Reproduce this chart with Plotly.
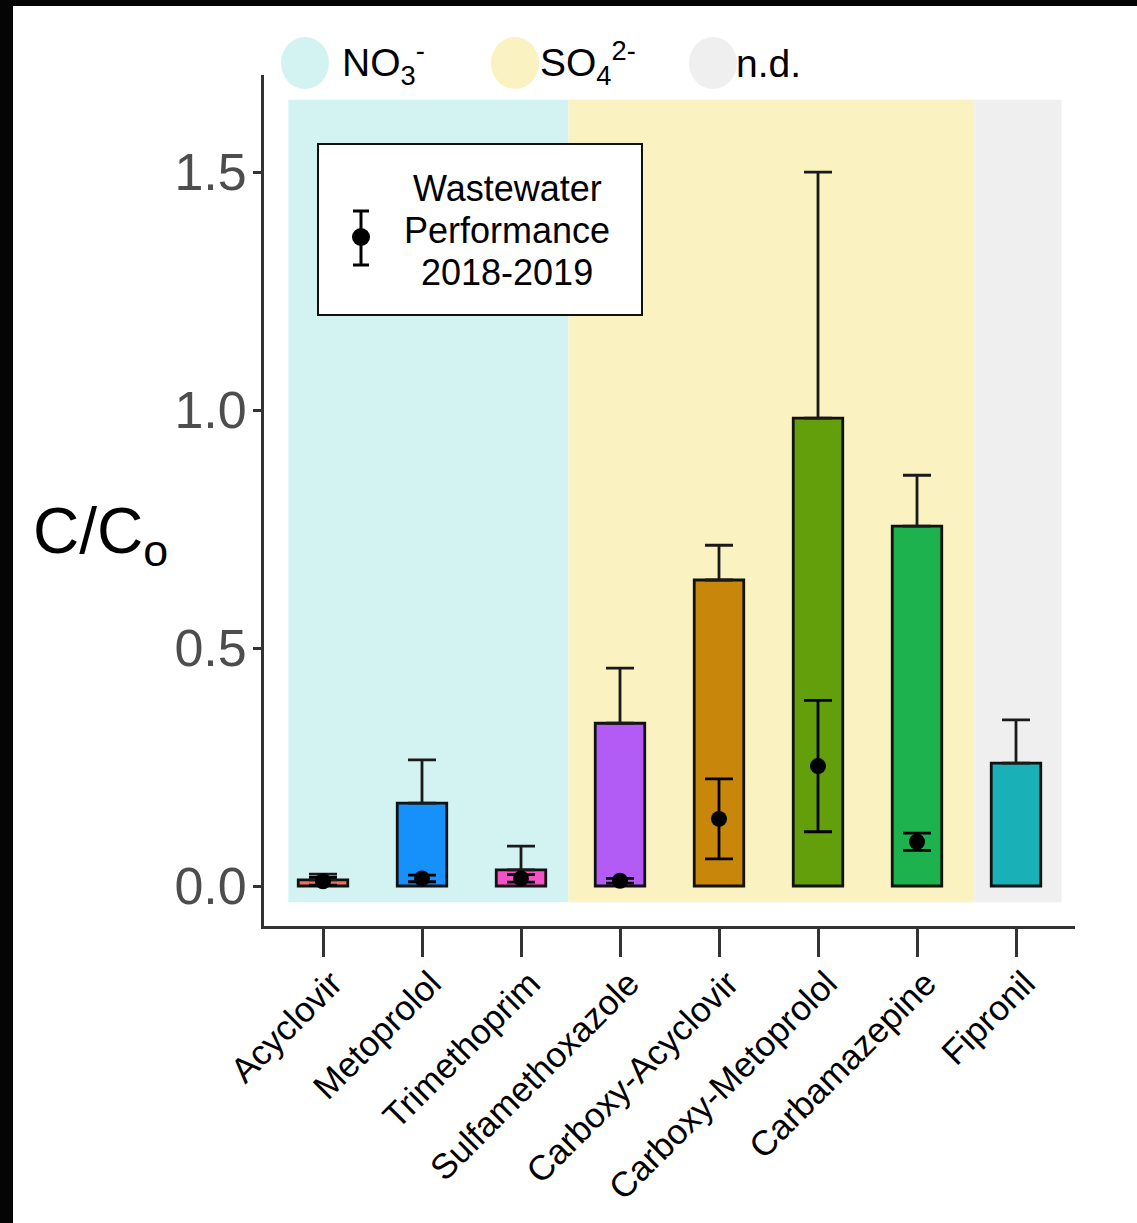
import plotly.graph_objects as go

# Compounds and measured C/Co (column mean and upper standard deviation)
compounds = ["Acyclovir", "Metoprolol", "Trimethoprim", "Sulfamethoxazole",
             "Carboxy-Acyclovir", "Carboxy-Metoprolol", "Carbamazepine", "Fipronil"]
column_mean = [0.013, 0.174, 0.034, 0.342, 0.643, 0.983, 0.756, 0.258]
column_sd = [0.012, 0.091, 0.050, 0.116, 0.073, 0.517, 0.107, 0.091]
bar_colors = ["#F0705F", "#1690FA", "#F552C8", "#B35BF5",
              "#C8860B", "#629F0A", "#1DB24E", "#19B1B7"]

# Wastewater treatment performance 2018-2019 (mean +/- sd); no data for Fipronil
ww_compounds = ["Acyclovir", "Metoprolol", "Trimethoprim", "Sulfamethoxazole",
                "Carboxy-Acyclovir", "Carboxy-Metoprolol", "Carbamazepine"]
ww_mean = [0.010, 0.016, 0.016, 0.011, 0.141, 0.252, 0.093]
ww_sd = [0.008, 0.007, 0.008, 0.005, 0.084, 0.138, 0.018]

# Redox zones shading the compound groups (x spans in category units)
zone_names = ["NO3", "SO4", "nd"]
zone_x0 = [-0.35, 2.48, 6.58]
zone_x1 = [2.48, 6.58, 7.46]
zone_colors = ["#D3F3F3", "#FAF2C1", "#EFEFEF"]
zone_y0, zone_y1 = -0.034, 1.652

FONT = "Liberation Sans, Arial, sans-serif"
W, H = 1137, 1223
L, R, T, B = 264, 62, 75, 297
PW, PH = W - L - R, H - T - B


def px(xp):
    return (xp - L) / PW


def py(yp):
    return (H - B - yp) / PH


fig = go.Figure()

fig.add_trace(go.Bar(
    x=compounds, y=column_mean, width=0.5,
    marker=dict(color=bar_colors, line=dict(color="#111111", width=2.8)),
    error_y=dict(type="data", symmetric=False, array=column_sd,
                 arrayminus=[0] * len(column_sd),
                 color="#1a1a1a", thickness=2.8, width=14),
    showlegend=False, hoverinfo="x+y",
))

fig.add_trace(go.Scatter(
    x=ww_compounds, y=ww_mean, mode="markers",
    marker=dict(color="#000000", size=16),
    error_y=dict(type="data", array=ww_sd, color="#000000",
                 thickness=2.8, width=14),
    showlegend=False,
))

shapes = []
for x0, x1, c in zip(zone_x0, zone_x1, zone_colors):
    shapes.append(dict(type="rect", xref="x", yref="y", x0=x0, x1=x1,
                       y0=zone_y0, y1=zone_y1, fillcolor=c,
                       line=dict(width=0), layer="below"))

# dark frame edge along the top and left
shapes.append(dict(type="rect", xref="paper", yref="paper",
                   x0=px(0), x1=px(1137), y0=py(6), y1=py(0),
                   fillcolor="#050505", line=dict(width=0)))
shapes.append(dict(type="rect", xref="paper", yref="paper",
                   x0=px(0), x1=px(13), y0=py(1223), y1=py(0),
                   fillcolor="#050505", line=dict(width=0)))

# zone key: coloured dots above the panel
key_centers = [305, 515, 713]
for cx, c in zip(key_centers, zone_colors):
    shapes.append(dict(type="circle", xref="paper", yref="paper",
                       x0=px(cx - 24), x1=px(cx + 24), y0=py(89), y1=py(37),
                       fillcolor=c, line=dict(width=0)))

# inset key for the wastewater points
shapes.append(dict(type="rect", xref="paper", yref="paper",
                   x0=px(318), x1=px(642), y0=py(315), y1=py(144),
                   fillcolor="white", line=dict(color="#111111", width=2)))
shapes.append(dict(type="line", xref="paper", yref="paper",
                   x0=px(361), x1=px(361), y0=py(265), y1=py(211),
                   line=dict(color="black", width=3)))
for yy in (211, 265):
    shapes.append(dict(type="line", xref="paper", yref="paper",
                       x0=px(353), x1=px(369), y0=py(yy), y1=py(yy),
                       line=dict(color="black", width=3)))
shapes.append(dict(type="circle", xref="paper", yref="paper",
                   x0=px(352), x1=px(370), y0=py(246), y1=py(228),
                   fillcolor="black", line=dict(width=0)))

annotations = [
    dict(text="NO<sub>3</sub><sup>-</sup>", x=px(340), y=py(63),
         xanchor="left", yanchor="middle", font=dict(size=39)),
    dict(text="SO<sub>4</sub><sup>2-</sup>", x=px(538), y=py(63),
         xanchor="left", yanchor="middle", font=dict(size=39)),
    dict(text="n.d.", x=px(734), y=py(63),
         xanchor="left", yanchor="middle", font=dict(size=39)),
    dict(text="Wastewater", x=px(507), y=py(188),
         xanchor="center", yanchor="middle", font=dict(size=36)),
    dict(text="Performance", x=px(507), y=py(230),
         xanchor="center", yanchor="middle", font=dict(size=36)),
    dict(text="2018-2019", x=px(507), y=py(272),
         xanchor="center", yanchor="middle", font=dict(size=36)),
    dict(text="C/C<sub>o</sub>", x=px(100), y=py(535),
         xanchor="center", yanchor="middle", font=dict(size=64)),
]
for a in annotations:
    a.update(xref="paper", yref="paper", showarrow=False)
    a["font"].update(family=FONT, color="#000000")

fig.update_layout(
    width=W, height=H,
    margin=dict(l=L, r=R, t=T, b=B, pad=0, autoexpand=False),
    paper_bgcolor="white", plot_bgcolor="white",
    font=dict(family=FONT),
    bargap=0.5,
    shapes=shapes, annotations=annotations,
    xaxis=dict(
        range=[-0.596, 7.596], showgrid=False, zeroline=False,
        automargin=False,
        showline=True, linecolor="#333333", linewidth=2.8,
        ticks="outside", ticklen=28, tickwidth=2.8, tickcolor="#333333",
        tickangle=-45, tickfont=dict(size=35, color="#000000", family=FONT),
        ticklabelstandoff=-8, ticklabelshift=9,
        categoryorder="array", categoryarray=compounds,
    ),
    yaxis=dict(
        range=[-0.084, 1.704], showgrid=False, zeroline=False,
        automargin=False,
        showline=True, linecolor="#333333", linewidth=2.8,
        ticks="outside", ticklen=8, tickwidth=2.8, tickcolor="#333333",
        ticklabelstandoff=-4,
        tickvals=[0, 0.5, 1.0, 1.5], ticktext=["0.0", "0.5", "1.0", "1.5"],
        tickfont=dict(size=52, color="#4D4D4D", family=FONT),
    ),
)

fig.write_html("out.html")
